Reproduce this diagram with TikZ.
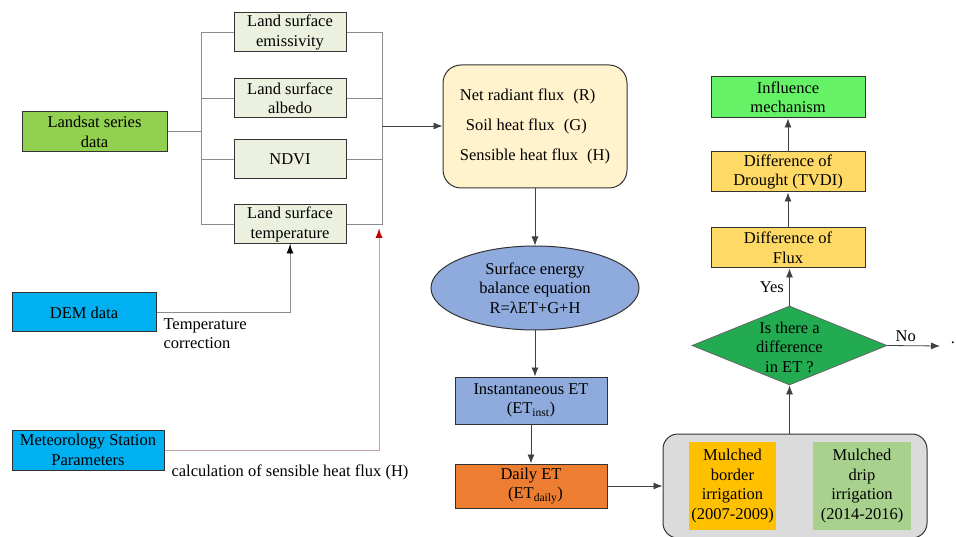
\documentclass[tikz,border=0pt]{standalone}
\usepackage{fontspec}
\newfontfamily\tnr{Liberation Serif}
\usetikzlibrary{shapes.geometric,arrows.meta}
\newcommand{\fwl}{\hspace{0.55em}(}
\newcommand{\fwr}{)\hspace{0.3em}}
\definecolor{lsgreen}{HTML}{92D050}
\definecolor{palegreen}{HTML}{EBF1DE}
\definecolor{skyblue}{HTML}{00B0F0}
\definecolor{cream}{HTML}{FFF2CC}
\definecolor{steel}{HTML}{8FAADC}
\definecolor{orng}{HTML}{ED7D31}
\definecolor{amber}{HTML}{FFC000}
\definecolor{sage}{HTML}{A9D18E}
\definecolor{gold}{HTML}{FFD966}
\definecolor{lime}{HTML}{66F266}
\definecolor{dgreen}{HTML}{22AB50}
\definecolor{pinkgray}{HTML}{C4A4A8}
\definecolor{dred}{HTML}{C00000}
\begin{document}
\begin{tikzpicture}[x=1pt,y=-1pt,font=\fontsize{16.5}{19.5}\selectfont\tnr]
    \tikzstyle{box}=[draw=black!80, line width=1pt, align=center, inner sep=1pt]
    \tikzstyle{gline}=[draw=black!45, line width=1pt]
    \tikzstyle{arr}=[draw=black!75, line width=0.8pt, -{Latex[length=9pt,width=7pt]}]
    \tikzstyle{tip}=[line width=0pt, -{Latex[length=9pt,width=7pt]}]
    \useasboundingbox (0,0) rectangle (956,537);
    % input data
    \node[box, fill=lsgreen, minimum width=145, minimum height=40] (landsat) at (94.5,132) {Landsat series\\data};
    \node[box, fill=skyblue, minimum width=144, minimum height=39] (dem) at (84,312.5) {DEM data};
    \node[box, fill=skyblue, minimum width=152, minimum height=40] (met) at (88,450) {Meteorology Station\\Parameters};
    % retrieved parameters
    \node[box, fill=palegreen, minimum width=112, minimum height=39] (ems) at (290,32.5) {Land surface\\emissivity};
    \node[box, fill=palegreen, minimum width=112, minimum height=39] (alb) at (290,98.5) {Land surface\\albedo};
    \node[box, fill=palegreen, minimum width=112, minimum height=39] (ndvi) at (290,159.5) {NDVI};
    \node[box, fill=palegreen, minimum width=112, minimum height=39] (lst) at (290,224.5) {Land surface\\temperature};
    \coordinate (lb) at (201,132);
    \coordinate (rb) at (382,126);
    \draw[gline] (landsat) -- (lb);
    \foreach \b in {ems,alb,ndvi,lst} {
      \draw[gline] (\b.west) -| (lb);
      \draw[gline] (\b.east) -| (rb);
    }
    \draw[gline] (dem.east) -| (lst.south);
    \draw[tip, black] ([yshift=-9pt]lst.south) -- (lst.south);
    \node[anchor=north west, align=left] (tc) at (160,315) {Temperature\\correction};
    \coordinate (rt) at (379,229);
    \draw[draw=pinkgray, line width=1pt] (met.east) -| (rt);
    \draw[tip, dred] ([yshift=-9pt]rt) -- (rt);
    \node[anchor=west] (hc) at (168,472) {calculation of sensible heat flux (H)};
    % energy balance chain
    \node[box, fill=cream, rounded corners=18, minimum width=184, minimum height=123, align=left] (flux) at (535,126.5)
      {Net radiant flux\fwl R\fwr\\[10.5pt] \hspace{6pt}Soil heat flux\fwl G\fwr\\[10.5pt] Sensible heat flux\fwl H\fwr};
    \draw[arr] (rb) -- (rb -| flux.west);
    \node[box, ellipse, fill=steel, inner sep=0pt, minimum width=208, minimum height=84] (seb) at (535,288)
      {Surface energy\\balance equation\\R=λET+G+H};
    \node[box, fill=steel, minimum width=152, minimum height=47] (inst) at (531,400.5) {Instantaneous ET\\(ET\textsubscript{inst})};
    \node[box, fill=orng, minimum width=152, minimum height=44] (daily) at (531,486) {Daily ET\\\fwl ET\textsubscript{daily}\fwr};
    \draw[arr] (flux) -- (seb);
    \draw[arr] (seb.south) -- (seb.south |- inst.north);
    \draw[arr] (inst) -- (daily);
    % irrigation comparison
    \node[box, fill=black!14, rounded corners=15, minimum width=264, minimum height=104] (irr) at (795,486) {};
    \node[fill=amber, align=center, minimum width=87, minimum height=88, inner sep=0pt] (mbi) at (732.5,486)
      {Mulched\\border\\irrigation\\(2007-2009)};
    \node[fill=sage, align=center, minimum width=98, minimum height=88, inner sep=0pt] (mdi) at (862,486)
      {Mulched\\drip\\irrigation\\(2014-2016)};
    \draw[arr] (daily) -- (daily -| irr.west);
    % decision and results
    \node[draw=black!60, line width=0.8pt, diamond, fill=dgreen, aspect=2.47, inner sep=0pt, minimum width=195, minimum height=79] (q) at (789.5,345.5) {};
    \node[align=center] (qt) at (789.5,347) {Is there a\\difference\\in ET ?};
    \draw[arr] (q.south |- irr.north) -- (q.south);
    \node[box, fill=gold, minimum width=154, minimum height=40] (dfx) at (788,248) {Difference of\\Flux};
    \node[box, fill=gold, minimum width=154, minimum height=40] (dtv) at (788,172) {Difference of\\Drought (TVDI)};
    \node[box, fill=lime, minimum width=154, minimum height=41] (inf) at (788,97.5) {Influence\\mechanism};
    \draw[arr] (q.north) -- (q.north |- dfx.south) node[midway, left, xshift=-2pt] {Yes};
    \draw[arr] (dfx) -- (dtv);
    \draw[arr] (dtv) -- (inf);
    \coordinate (no) at (940,346);
    \draw[arr] (q.east) -- (no) node[midway, above, xshift=-8pt] {No};
    \node (dot) at (953,343) {.};
  \end{tikzpicture}
\end{document}
